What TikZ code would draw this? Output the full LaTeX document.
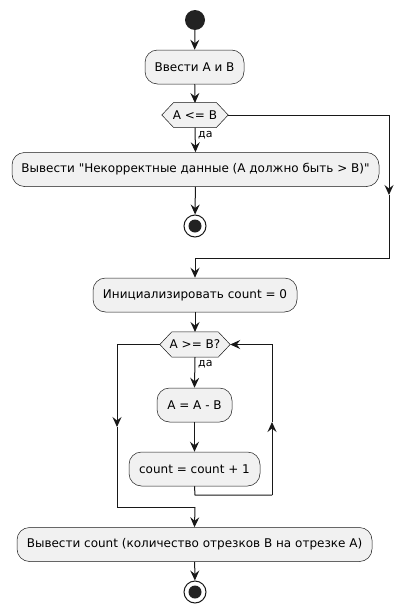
\documentclass[tikz,border=0pt]{standalone}
\usepackage{fontspec}
\setmainfont{DejaVu Sans}[Ligatures=TeXOff]
\usetikzlibrary{arrows.meta}
\pgfdeclarelayer{background}
\pgfsetlayers{background,main}
\definecolor{ln}{HTML}{181818}
\definecolor{bx}{HTML}{F1F1F1}
\definecolor{dot}{HTML}{222222}
\tikzset{
  x=1pt, y=-1pt,
  every node/.style={font=\fontsize{12}{14}\selectfont, text=black, inner sep=0pt},
  actbox/.style={draw=ln, line width=0.5pt, fill=bx, rounded corners=12.5pt, minimum height=34pt},
  hexnode/.style={minimum height=25pt},
  conn/.style={draw=ln, line width=1pt},
  arr/.style={conn, -{Stealth[length=10pt,width=9pt,inset=3.5pt]}},
  lbl/.style={font=\fontsize{11}{13}\selectfont, anchor=west},
  startdot/.style={circle, fill=dot, minimum size=20pt},
  stopdot/.style={circle, draw=ln, line width=1pt, fill=white, minimum size=22pt},
}
\newcommand{\hexagonfor}[1]{%
  \begin{pgfonlayer}{background}
  \filldraw[draw=ln, line width=0.5pt, fill=bx]
    (#1.west) -- ([xshift=12pt]#1.north west) -- ([xshift=-12pt]#1.north east)
    -- (#1.east) -- ([xshift=-12pt]#1.south east) -- ([xshift=12pt]#1.south west) -- cycle;
  \end{pgfonlayer}}
\begin{document}
\begin{tikzpicture}
\useasboundingbox (0,0) rectangle (414,613);
% nodes
\node[startdot] (start) at (195,20) {};
\node[actbox, minimum width=99pt] (b1) at (194.5,67) {Ввести A и B};
\node[hexnode, minimum width=66pt] (d1) at (195,115) {A <= B};
\hexagonfor{d1}
\node[actbox, minimum width=367pt] (b2) at (195.5,169.5) {Вывести "Некорректные данные (A должно быть > B)"};
\node[stopdot] (stop1) at (195,226) {};
\fill[dot] (stop1) circle[radius=6.5pt];
\node[actbox, minimum width=204pt] (b3) at (195,295) {Инициализировать count = 0};
\node[hexnode, minimum width=70pt] (d2) at (195,344.5) {A >= B?};
\hexagonfor{d2}
\node[actbox, minimum width=75pt] (b4) at (194.5,405) {A = A - B};
\node[actbox, minimum width=131pt] (b5) at (194.5,469) {count = count + 1};
\node[actbox, minimum width=355pt] (b6) at (194.5,544.5) {Вывести count (количество отрезков B на отрезке A)};
\node[stopdot] (stop2) at (195,592) {};
\fill[dot] (stop2) circle[radius=6.5pt];
% helper coordinates
\coordinate (r1) at (389,195);
\coordinate (r2) at (389,258);
\coordinate (j1) at (195,258);
\coordinate (l1) at (117,427);
\coordinate (l2) at (117,507);
\coordinate (j2) at (195,507);
\coordinate (u1) at (272,422);
\coordinate (u2) at (272,495);
\coordinate (u3) at (195,495);
% connectors
\draw[arr] (start) -- (b1);
\draw[arr] (b1) -- (d1.south |- 0,103);
\draw[arr] (d1.south) -- (b2.north);
\node[lbl] (y1) at (198,135) {да};
\draw[arr] (b2) -- (stop1);
\draw[arr] (d1.east) -| (r1);
\draw[conn] (r1) -- (r2) -- (j1);
\draw[arr] (j1) -- (b3.north);
\draw[arr] (b3) -- (d2.south |- 0,332);
\draw[arr] (d2.south) -- (b4.north);
\node[lbl] (y2) at (198,364) {да};
\draw[arr] (b4) -- (b5);
\draw[conn] (b5.south) -- (u3) -- (u2);
\draw[arr] (u2) -- (u1);
\draw[arr] (u1) |- (d2.east);
\draw[arr] (d2.west) -| (l1);
\draw[conn] (l1) -- (l2) -- (j2);
\draw[arr] (j2) -- (b6.north);
\draw[arr] (b6) -- (stop2);
\end{tikzpicture}
\end{document}
